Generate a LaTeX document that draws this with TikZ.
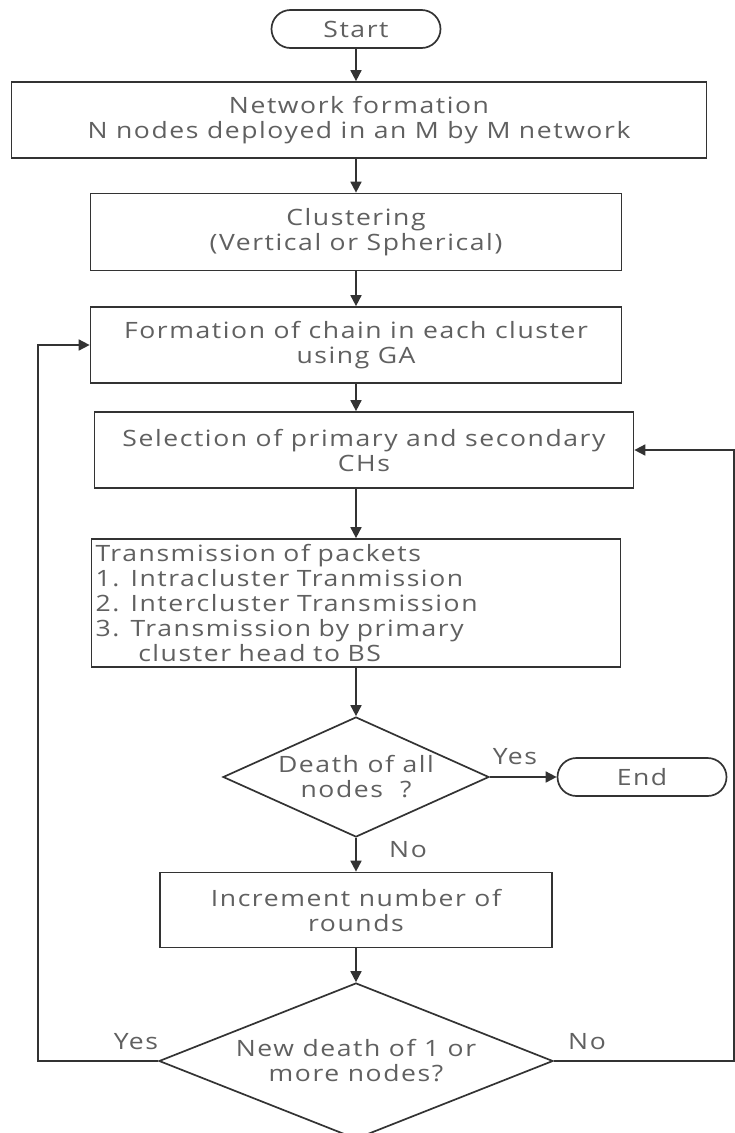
\documentclass[tikz,border=0pt]{standalone}
\usepackage{fontspec}
\setmainfont[LetterSpace=7,FakeStretch=1.18]{Open Sans}
\usetikzlibrary{shapes.geometric,arrows.meta}
\definecolor{txtgray}{HTML}{606060}
\definecolor{linegray}{HTML}{333333}

\begin{document}
\begin{tikzpicture}[x=1pt, y=-1pt,
  font=\fontsize{22.5}{25}\selectfont, text=txtgray,
  box/.style={draw=linegray, line width=1.7pt, align=center, inner sep=0pt},
  term/.style={box, rounded corners=19pt, minimum width=169pt, minimum height=38pt},
  decision/.style={draw=linegray, line width=1.7pt, diamond, align=center, inner sep=0pt},
  flow/.style={draw=linegray, line width=1.7pt, -{Triangle[length=11pt,width=11pt]}},
  lbl/.style={inner sep=0pt}]
\useasboundingbox (0,0) rectangle (735,1133);
\clip (0,0) rectangle (735,1133);
\fill[white] (0,0) rectangle (735,1133);
\coordinate (spine) at (356,0);
\coordinate (ll) at (38,0);
\coordinate (rr) at (734,0);

\node[term] (start) at (356,29) {Start};
\node[box, minimum width=695pt, minimum height=76pt] (box1) at (359,120)
  {Network formation\\N nodes deployed in an M by M network};
\node[box, minimum width=531pt, minimum height=77pt] (box2) at (356,232)
  {Clustering\\(Vertical or Spherical)};
\node[box, minimum width=531pt, minimum height=76pt] (box3) at (356,345)
  {Formation of chain in each cluster\\using GA};
\node[box, minimum width=539pt, minimum height=76pt] (box4) at (364,450)
  {Selection of primary and secondary\\CHs};
\node[box, align=left, text width=521pt, inner xsep=4pt, minimum height=128pt] (box5) at (356,603)
  {Transmission of packets\\1. Intracluster Tranmission\\2. Intercluster Transmission\\3. Transmission by primary\\\hspace*{1.9em}cluster head to BS};
\node[decision, minimum width=266pt, minimum height=120pt, aspect=2.2] (d1) at (356,777)
  {Death of all\\nodes\ \ ?};
\node[term] (end) at (642,777) {End};
\node[box, minimum width=392pt, minimum height=75pt] (box6) at (356,910)
  {Increment number of\\rounds};
\node[decision, minimum width=394pt, minimum height=156pt, aspect=2.5] (d2) at (356,1061)
  {New death of 1 or\\more nodes?};

\node[lbl] (yes1) at (515,757) {Yes};
\node[lbl] (no1) at (408,850) {No};
\node[lbl] (yes2) at (136,1042) {Yes};
\node[lbl] (no2) at (587,1042) {No};

\foreach \a/\b in {start/box1, box1/box2, box2/box3, box3/box4, box4/box5, box5/d1, d1/box6, box6/d2}
  \draw[flow] (\a.south -| spine) -- (\b.north -| spine);
\draw[flow] (d1.east) -- (end.west);
\draw[flow] (d2.west) -| (ll |- box3) -- (box3.west);
\draw[flow] (d2.east) -| (rr |- box4) -- (box4.east);
\end{tikzpicture}
\end{document}
